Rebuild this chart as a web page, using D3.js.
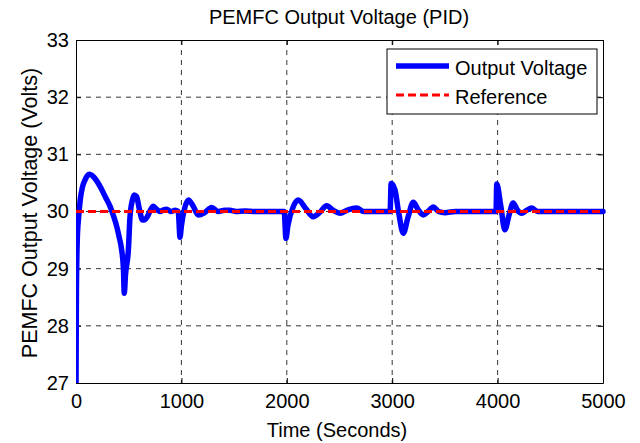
<!DOCTYPE html>
<html>
<head>
<meta charset="utf-8">
<script src="https://cdn.jsdelivr.net/npm/d3@7"></script>
<style>
  body { margin: 0; background: #fff; }
  text { font-family: "Liberation Sans", Arial, sans-serif; fill: #000; }
</style>
</head>
<body>
<div id="chart"></div>
<script>
// series
var timeSec = [0, 4, 12, 25, 40, 60, 85, 126, 170, 228, 280, 323, 360, 386, 410, 433, 450, 458, 470, 497, 512, 535, 552, 575, 600, 632, 655, 677, 705, 734, 765, 797, 830, 860, 900, 940, 970, 987, 1000, 1030, 1066, 1110, 1160, 1220, 1287, 1350, 1410, 1460, 1520, 1600, 1700, 1800, 1900, 1975, 1992, 2010, 2060, 2109, 2180, 2251, 2310, 2378, 2440, 2505, 2580, 2663, 2730, 2790, 2900, 2980, 2990, 3026, 3060, 3105, 3150, 3200, 3250, 3295, 3340, 3390, 3440, 3500, 3600, 3800, 3985, 3992, 4030, 4069, 4110, 4148, 4190, 4228, 4275, 4323, 4380, 4450, 4600, 5000];
var voltage = [27.0, 28.6, 29.5, 29.9, 30.2, 30.42, 30.55, 30.65, 30.6, 30.44, 30.25, 30.09, 29.9, 29.74, 29.55, 29.33, 29.0, 28.57, 28.9, 29.33, 29.9, 30.2, 30.29, 30.26, 30.05, 29.85, 29.86, 29.91, 30.02, 30.09, 30.04, 30.0, 30.03, 30.04, 30.0, 30.02, 30.0, 29.55, 29.75, 30.05, 30.2, 30.1, 29.94, 29.98, 30.07, 30.0, 30.02, 30.02, 30.0, 30.01, 30.0, 30.0, 30.0, 30.0, 29.53, 29.75, 30.08, 30.2, 30.05, 29.91, 29.98, 30.1, 30.02, 29.97, 30.03, 30.06, 30.0, 30.0, 30.0, 30.0, 30.49, 30.38, 30.0, 29.62, 29.9, 30.16, 30.02, 29.94, 30.0, 30.08, 30.0, 29.98, 30.0, 30.0, 30.0, 30.48, 30.1, 29.68, 29.95, 30.15, 30.02, 29.97, 30.02, 30.06, 30.0, 30.0, 30.0, 30.0];
var refTime = [0, 5000];
var refVoltage = [30, 30];
var xTicks = [0, 1000, 2000, 3000, 4000, 5000];
var yTicks = [27, 28, 29, 30, 31, 32, 33];
var legendNames = ["Output Voltage", "Reference"];

var width = 640, height = 443;
var plotLeft = 76, plotRight = 603, plotTop = 40, plotBottom = 383;

var svg = d3.select('#chart').append('svg').attr('width', width).attr('height', height);

var x = d3.scaleLinear().domain([0, 5000]).range([plotLeft, plotRight]);
var y = d3.scaleLinear().domain([27, 33]).range([plotBottom, plotTop]);

// grid
svg.append('g').selectAll('line').data(xTicks.slice(1, -1)).enter().append('line')
  .attr('x1', function(d){ return x(d); }).attr('x2', function(d){ return x(d); })
  .attr('y1', plotTop).attr('y2', plotBottom)
  .attr('stroke', '#000').attr('stroke-width', 0.8).attr('stroke-dasharray', '5,5');
svg.append('g').selectAll('line').data(yTicks.slice(1, -1)).enter().append('line')
  .attr('x1', plotLeft).attr('x2', plotRight)
  .attr('y1', function(d){ return y(d); }).attr('y2', function(d){ return y(d); })
  .attr('stroke', '#000').attr('stroke-width', 0.8).attr('stroke-dasharray', '5,5');

// axes
var xAxis = svg.append('g').attr('transform', 'translate(0,' + plotBottom + ')')
  .call(d3.axisBottom(x).tickValues(xTicks).tickFormat(d3.format('d')).tickSizeInner(-5).tickSizeOuter(0).tickPadding(11));
var yAxis = svg.append('g').attr('transform', 'translate(' + plotLeft + ',0)')
  .call(d3.axisLeft(y).tickValues(yTicks).tickFormat(d3.format('d')).tickSizeInner(-5).tickSizeOuter(0).tickPadding(7));
svg.append('g').attr('transform', 'translate(0,' + plotTop + ')')
  .call(d3.axisTop(x).tickValues(xTicks).tickSizeInner(-5).tickSizeOuter(0).tickFormat(''));
svg.append('g').attr('transform', 'translate(' + plotRight + ',0)')
  .call(d3.axisRight(y).tickValues(yTicks).tickSizeInner(-5).tickSizeOuter(0).tickFormat(''));
svg.selectAll('.domain').attr('stroke', '#000').attr('stroke-width', 1);
svg.selectAll('.tick line').attr('stroke', '#000');
xAxis.selectAll('text').style('font-size', '20px');
yAxis.selectAll('text').style('font-size', '20px');

// lines
svg.append('clipPath').attr('id', 'plotclip').append('rect')
  .attr('x', plotLeft).attr('y', plotTop - 3).attr('width', plotRight - plotLeft + 3).attr('height', plotBottom - plotTop + 3);

var outLine = d3.line()
  .x(function(d, i){ return x(timeSec[i]); })
  .y(function(d){ return y(d); })
  .curve(d3.curveMonotoneX);
svg.append('path').datum(voltage).attr('d', outLine)
  .attr('clip-path', 'url(#plotclip)')
  .attr('fill', 'none').attr('stroke', '#0000ff').attr('stroke-width', 5.5)
  .attr('stroke-linejoin', 'round').attr('stroke-linecap', 'round');

var refLine = d3.line()
  .x(function(d, i){ return x(refTime[i]); })
  .y(function(d){ return y(d); });
svg.append('path').datum(refVoltage).attr('d', refLine)
  .attr('fill', 'none').attr('stroke', '#ff0000').attr('stroke-width', 3)
  .attr('stroke-dasharray', '8,4');

// legend
var lg = svg.append('g');
lg.append('rect').attr('x', 387).attr('y', 49).attr('width', 210).attr('height', 65)
  .attr('fill', '#fff').attr('stroke', '#000').attr('stroke-width', 1);
lg.append('line').attr('x1', 396).attr('x2', 449).attr('y1', 66).attr('y2', 66)
  .attr('stroke', '#0000ff').attr('stroke-width', 5.5);
lg.append('line').attr('x1', 396).attr('x2', 449).attr('y1', 95).attr('y2', 95)
  .attr('stroke', '#ff0000').attr('stroke-width', 3).attr('stroke-dasharray', '8,4');
lg.selectAll('text.lab').data(legendNames).enter().append('text')
  .attr('x', 455).attr('y', function(d, i){ return 75 + i * 29; })
  .style('font-size', '20px').text(function(d){ return d; });

// titles
svg.append('text').attr('x', 339).attr('y', 24).attr('text-anchor', 'middle')
  .style('font-size', '20px').text('PEMFC Output Voltage (PID)');
svg.append('text').attr('x', 337).attr('y', 437).attr('text-anchor', 'middle')
  .style('font-size', '20px').text('Time (Seconds)');
svg.append('text').attr('transform', 'translate(37,213) rotate(-90)')
  .attr('text-anchor', 'middle').style('font-size', '21.5px').text('PEMFC Output Voltage (Volts)');
</script>
</body>
</html>
